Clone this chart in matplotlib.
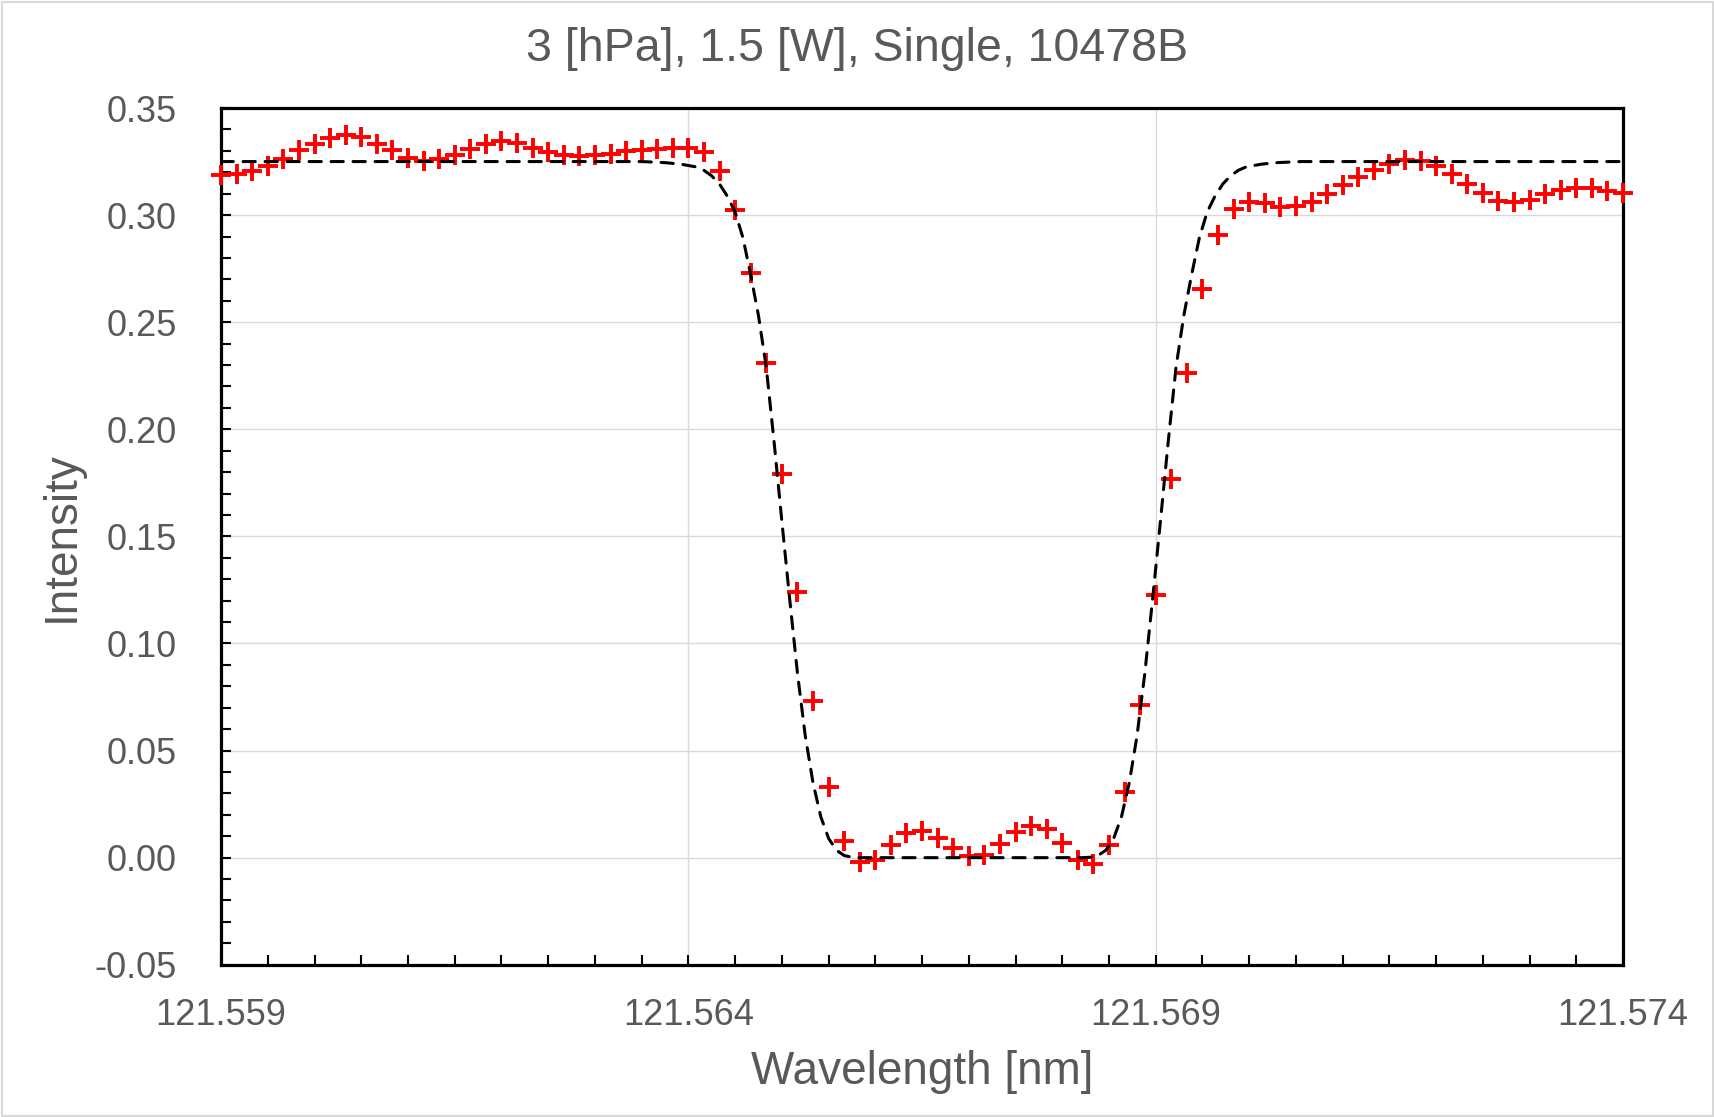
import numpy as np
import matplotlib
matplotlib.use("Agg")
import matplotlib.pyplot as plt
from matplotlib.ticker import FixedLocator, FormatStrFormatter, MultipleLocator
from matplotlib.patches import Rectangle

plt.rcParams['font.family'] = ['Liberation Sans', 'DejaVu Sans']

# measured spectrum, evenly sampled from 121.559 nm
wl_start = 121.559
wl_step = 0.015 / 90
intensity = [
    0.3185, 0.3193, 0.3204, 0.3229, 0.3260, 0.3302, 0.3333, 0.3360, 0.3372, 0.3364,
    0.3333, 0.3305, 0.3268, 0.3251, 0.3260, 0.3279, 0.3307, 0.3333, 0.3344, 0.3338,
    0.3313, 0.3294, 0.3279, 0.3276, 0.3279, 0.3287, 0.3298, 0.3302, 0.3310, 0.3313,
    0.3313, 0.3294, 0.3204, 0.3026, 0.2729, 0.2310, 0.1791, 0.1238, 0.0732, 0.0330,
    0.0080, -0.0021, -0.0009, 0.0057, 0.0116, 0.0125, 0.0093, 0.0045, 0.0009, 0.0014,
    0.0063, 0.0120, 0.0148, 0.0134, 0.0068, -0.0009, -0.0030, 0.0059, 0.0308, 0.0715,
    0.1224, 0.1769, 0.2264, 0.2656, 0.2906, 0.3028, 0.3063, 0.3055, 0.3036, 0.3042,
    0.3063, 0.3097, 0.3141, 0.3180, 0.3211, 0.3238, 0.3255, 0.3253, 0.3231, 0.3191,
    0.3144, 0.3102, 0.3067, 0.3059, 0.3070, 0.3097, 0.3117, 0.3128, 0.3125, 0.3113,
    0.3105,
]

# fitted profile (dashed)
fit_wl = [
    121.559, 121.5635, 121.56375, 121.563917, 121.564083, 121.564167, 121.56425,
    121.564333, 121.564417, 121.5645, 121.564583, 121.564667, 121.56475, 121.564833,
    121.564917, 121.565, 121.565083, 121.565167, 121.56525, 121.565333, 121.565417,
    121.5655, 121.565583, 121.565667, 121.56575, 121.565833,
    121.568217, 121.5683, 121.568383, 121.568467, 121.56855, 121.568633, 121.568717,
    121.5688, 121.568883, 121.568967, 121.56905, 121.569133, 121.569217, 121.5693,
    121.569383, 121.569467, 121.56955, 121.569633, 121.569717, 121.5698, 121.569883,
    121.569967, 121.570133, 121.5703, 121.57055, 121.574,
]
fit_int = [
    0.325, 0.325, 0.3245, 0.3238, 0.3225, 0.3209, 0.3183,
    0.3145, 0.3088, 0.3014, 0.2895, 0.2720, 0.2530, 0.2290,
    0.1940, 0.1570, 0.1210, 0.0860, 0.0570, 0.0350, 0.0190,
    0.0090, 0.0035, 0.0010, 0.0002, 0.0,
    0.0, 0.0002, 0.0010, 0.0035, 0.0090, 0.0190, 0.0350,
    0.0570, 0.0860, 0.1210, 0.1570, 0.1940, 0.2290, 0.2530,
    0.2720, 0.2895, 0.3014, 0.3088, 0.3145, 0.3183, 0.3209,
    0.3225, 0.3238, 0.3245, 0.325, 0.325,
]

x_ticks = [121.559, 121.564, 121.569, 121.574]
title = "3 [hPa], 1.5 [W], Single, 10478B"
text_color = "#595959"

wavelength = wl_start + wl_step * np.arange(len(intensity))

fig = plt.figure(figsize=(17.15, 11.17), dpi=100)
fig.patches.append(Rectangle((0.001, 0.001), 0.998, 0.997, transform=fig.transFigure,
                             fill=False, edgecolor="#d9d9d9", linewidth=1.5))
ax = fig.add_axes([0.1289, 0.1363, 0.8175, 0.7670])

ax.plot(wavelength, intensity, linestyle="none", marker="+", color="#ff0000",
        markersize=14, markeredgewidth=2.8, zorder=3, clip_on=False)
ax.plot(fit_wl, fit_int, color="black", linewidth=2.2, linestyle=(0, (4.0, 3.2)),
        dash_capstyle="round", zorder=4)

ax.set_xlim(x_ticks[0], x_ticks[-1])
ax.set_ylim(-0.05, 0.35)
ax.xaxis.set_major_locator(FixedLocator(x_ticks))
ax.xaxis.set_minor_locator(FixedLocator(np.linspace(x_ticks[0], x_ticks[-1], 31)))
ax.yaxis.set_major_locator(MultipleLocator(0.05))
ax.yaxis.set_minor_locator(MultipleLocator(0.01))
ax.xaxis.set_major_formatter(FormatStrFormatter("%.3f"))
ax.yaxis.set_major_formatter(FormatStrFormatter("%.2f"))

ax.grid(True, which="major", color="#d9d9d9", linewidth=1.0, zorder=0)
ax.set_axisbelow(True)
for s in ax.spines.values():
    s.set_linewidth(2.3)
    s.set_color("black")

ax.tick_params(which="both", direction="in", length=7, width=1.5, colors="black",
               labelcolor=text_color, labelsize=26)
ax.tick_params(axis="y", which="major", pad=32)
ax.tick_params(axis="x", which="major", pad=24)

ax.set_xlabel("Wavelength [nm]", fontsize=33, color=text_color, labelpad=12)
ax.set_ylabel("Intensity", fontsize=33, color=text_color, labelpad=8)
fig.text(0.5, 0.956, title, ha="center", va="center", fontsize=33.5, color=text_color)

fig.savefig("out.png", dpi=100)
